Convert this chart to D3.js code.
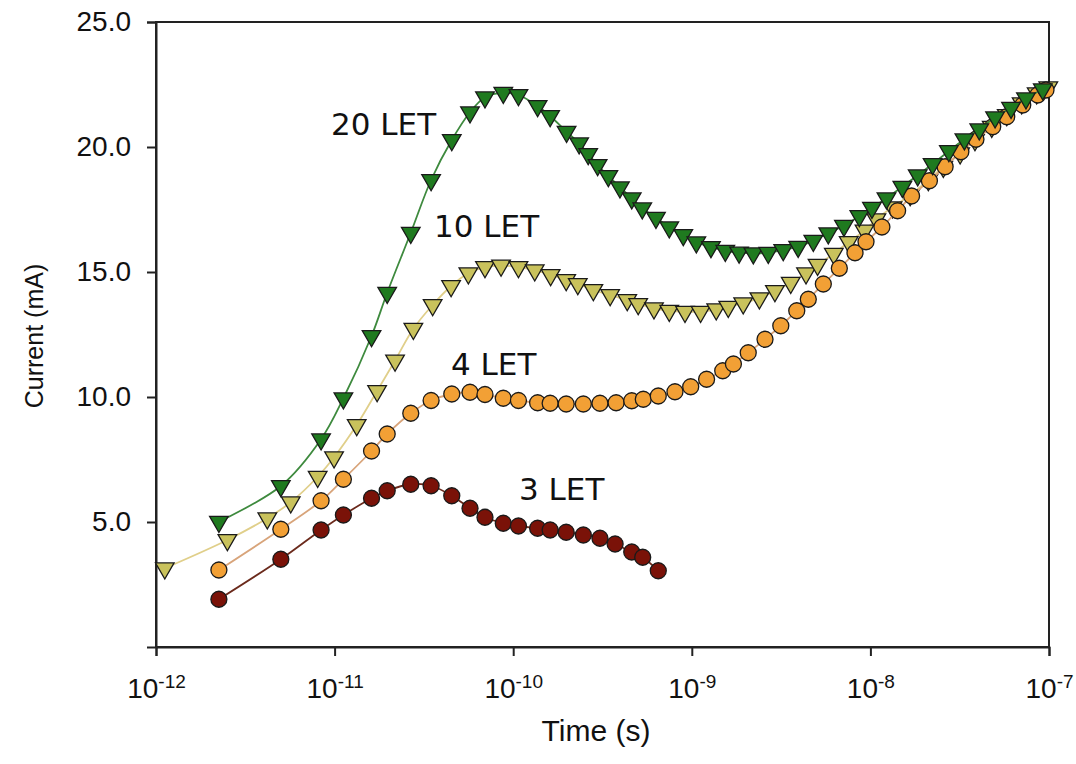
<!DOCTYPE html>
<html>
<head>
<meta charset="utf-8">
<script src="https://cdn.jsdelivr.net/npm/d3@7"></script>
<style>
  body { margin: 0; background: #fff; }
  svg { display: block; }
</style>
</head>
<body>
<div id="chart"></div>
<script>
// values: time (s) and current (mA)
var let3T = [2.25e-12, 5.0e-12, 8.4e-12, 1.12e-11, 1.61e-11, 1.97e-11, 2.67e-11, 3.47e-11, 4.53e-11, 5.73e-11, 6.95e-11,
  8.8e-11, 1.07e-10, 1.37e-10, 1.61e-10, 1.98e-10, 2.47e-10, 3.06e-10, 3.72e-10, 4.61e-10, 5.31e-10, 6.49e-10];
var let3I = [1.91, 3.51, 4.68, 5.28, 5.95, 6.25, 6.51, 6.45, 6.05, 5.55, 5.19,
  4.95, 4.84, 4.75, 4.68, 4.59, 4.48, 4.35, 4.12, 3.80, 3.59, 3.05];

var let4T = [2.25e-12, 5.0e-12, 8.4e-12, 1.12e-11, 1.61e-11, 1.97e-11, 2.67e-11, 3.47e-11, 4.53e-11, 5.73e-11, 6.95e-11,
  8.8e-11, 1.07e-10, 1.37e-10, 1.61e-10, 1.98e-10, 2.47e-10, 3.06e-10, 3.77e-10, 4.61e-10, 5.35e-10, 6.49e-10,
  8.05e-10, 9.86e-10, 1.21e-9, 1.49e-9, 1.71e-9, 2.07e-9, 2.57e-9, 3.15e-9, 3.87e-9, 4.49e-9, 5.45e-9,
  6.70e-9, 8.20e-9, 9.45e-9, 1.16e-8, 1.42e-8, 1.70e-8, 2.14e-8, 2.62e-8, 3.21e-8, 3.90e-8, 4.84e-8,
  5.80e-8, 7.13e-8, 8.65e-8, 9.62e-8];
var let4I = [3.08, 4.71, 5.85, 6.71, 7.84, 8.52, 9.35, 9.86, 10.12, 10.19, 10.10,
  9.95, 9.86, 9.77, 9.75, 9.72, 9.72, 9.75, 9.77, 9.85, 9.91, 10.04,
  10.21, 10.41, 10.71, 11.05, 11.32, 11.77, 12.31, 12.85, 13.45, 13.91, 14.52,
  15.15, 15.77, 16.21, 16.80, 17.45, 18.04, 18.65, 19.21, 19.81, 20.31, 20.81,
  21.21, 21.68, 22.08, 22.28];

var let10T = [1.12e-12, 2.51e-12, 4.20e-12, 5.68e-12, 8.04e-12, 9.93e-12, 1.33e-11, 1.73e-11, 2.18e-11, 2.76e-11, 3.54e-11,
  4.49e-11, 5.61e-11, 6.95e-11, 8.55e-11, 1.07e-10, 1.32e-10, 1.62e-10, 1.98e-10, 2.30e-10, 2.81e-10, 3.49e-10,
  4.35e-10, 5.01e-10, 6.14e-10, 7.48e-10, 9.16e-10, 1.12e-9, 1.37e-9, 1.60e-9, 1.94e-9, 2.39e-9, 2.92e-9,
  3.58e-9, 4.36e-9, 5.06e-9, 6.24e-9, 7.56e-9, 9.27e-9, 1.08e-8, 1.33e-8, 1.67e-8, 2.11e-8, 2.56e-8,
  3.18e-8, 3.85e-8, 4.78e-8, 5.80e-8, 7.03e-8, 8.53e-8, 9.91e-8];
var let10I = [3.15, 4.28, 5.15, 5.79, 6.81, 7.59, 8.88, 10.24, 11.46, 12.73, 13.68,
  14.44, 14.95, 15.20, 15.26, 15.20, 15.07, 14.88, 14.68, 14.52, 14.28, 14.08,
  13.88, 13.72, 13.55, 13.45, 13.41, 13.41, 13.51, 13.61, 13.75, 13.95, 14.24,
  14.57, 14.95, 15.29, 15.73, 16.20, 16.66, 17.11, 17.59, 18.08, 18.68, 19.21,
  19.75, 20.28, 20.81, 21.28, 21.75, 22.15, 22.39];

var let20T = [2.25e-12, 5.0e-12, 8.4e-12, 1.12e-11, 1.61e-11, 1.97e-11, 2.67e-11, 3.47e-11, 4.53e-11, 5.73e-11, 6.95e-11,
  8.8e-11, 1.07e-10, 1.37e-10, 1.61e-10, 1.99e-10, 2.34e-10, 2.63e-10, 2.97e-10, 3.41e-10, 3.96e-10, 4.61e-10,
  5.28e-10, 6.30e-10, 7.48e-10, 8.96e-10, 1.06e-9, 1.28e-9, 1.54e-9, 1.84e-9, 2.21e-9, 2.68e-9, 3.25e-9,
  3.94e-9, 4.79e-9, 5.81e-9, 7.11e-9, 8.67e-9, 1.02e-8, 1.23e-8, 1.51e-8, 1.84e-8, 2.23e-8, 2.75e-8,
  3.36e-8, 4.07e-8, 4.99e-8, 6.13e-8, 7.43e-8, 9.23e-8];
var let20I = [5.01, 6.44, 8.31, 9.95, 12.44, 14.17, 16.57, 18.68, 20.28, 21.39, 21.99,
  22.17, 22.08, 21.64, 21.24, 20.61, 20.15, 19.72, 19.28, 18.84, 18.39, 17.95,
  17.55, 17.17, 16.79, 16.48, 16.19, 16.00, 15.85, 15.78, 15.75, 15.77, 15.88,
  16.01, 16.25, 16.55, 16.85, 17.24, 17.57, 17.95, 18.41, 18.87, 19.32, 19.84,
  20.31, 20.71, 21.19, 21.57, 21.95, 22.31];

var yTicks = [5, 10, 15, 20, 25];
var xTicks = [1e-12, 1e-11, 1e-10, 1e-9, 1e-8, 1e-7];

// draw order: last one ends on top
var series = [
  {name: '3 LET',  t: let3T,  i: let3I,  shape: 'circle',   fill: '#7a1208', line: '#6b2a1c', lx: 519, ly: 500},
  {name: '10 LET', t: let10T, i: let10I, shape: 'triangle', fill: '#c9c25c', line: '#e0cf8a', lx: 434, ly: 237},
  {name: '4 LET',  t: let4T,  i: let4I,  shape: 'circle',   fill: '#f2a035', line: '#d8a47a', lx: 451, ly: 375},
  {name: '20 LET', t: let20T, i: let20I, shape: 'triangle', fill: '#1f7a1f', line: '#3e8a3e', lx: 331, ly: 135}
];

var W = 1076, H = 764;
var plotL = 156, plotR = 1049, plotT = 22, plotB = 647;

var svg = d3.select('#chart').append('svg')
  .attr('width', W)
  .attr('height', H)
  .style('background', '#fff');

var x = d3.scaleLog().domain([1e-12, 1e-7]).range([plotL, plotR]);
var y = d3.scaleLinear().domain([0, 25]).range([plotB, plotT]);

// frame
svg.append('rect')
  .attr('x', plotL).attr('y', plotT)
  .attr('width', plotR - plotL).attr('height', plotB - plotT)
  .attr('fill', 'none').attr('stroke', '#222').attr('stroke-width', 2);

var yAxis = svg.append('g')
  .attr('transform', 'translate(' + plotL + ',0)')
  .call(d3.axisLeft(y).tickValues(yTicks).tickFormat(d3.format('.1f')).tickSize(9).tickPadding(16));

var xAxis = svg.append('g')
  .attr('transform', 'translate(0,' + plotB + ')')
  .call(d3.axisBottom(x).tickValues(xTicks).tickSize(9).tickPadding(14));

[yAxis, xAxis].forEach(function(g) {
  g.select('.domain').attr('stroke', '#222').attr('stroke-width', 2);
  g.selectAll('.tick line').attr('stroke', '#222').attr('stroke-width', 2);
  g.selectAll('.tick text')
    .attr('fill', '#111')
    .style('font-family', '"Liberation Sans", Arial, sans-serif')
    .style('font-size', '28px');
});

// powers of ten with a raised exponent
xAxis.selectAll('.tick text').each(function(d) {
  var txt = d3.select(this).text(null).attr('dy', '1.0em');
  txt.append('tspan').text('10');
  txt.append('tspan')
    .attr('dy', '-0.55em')
    .style('font-size', '19px')
    .text(Math.round(Math.log10(d)));
});

// axis titles
svg.append('text')
  .attr('x', 596).attr('y', 741)
  .attr('text-anchor', 'middle')
  .style('font-family', '"Liberation Sans", Arial, sans-serif')
  .style('font-size', '30px')
  .attr('fill', '#111')
  .text('Time (s)');

svg.append('text')
  .attr('transform', 'translate(43,336) rotate(-90)')
  .attr('text-anchor', 'middle')
  .style('font-family', '"Liberation Sans", Arial, sans-serif')
  .style('font-size', '25px')
  .attr('fill', '#111')
  .text('Current (mA)');

var line = d3.line()
  .x(function(d) { return x(d[0]); })
  .y(function(d) { return y(d[1]); })
  .curve(d3.curveCatmullRom.alpha(0.5));

var circle = d3.symbol().type(d3.symbolCircle).size(Math.PI * 8 * 8);
var tri = d3.symbol().type(d3.symbolTriangle).size(150);

series.forEach(function(s) {
  var pts = s.t.map(function(t, k) { return [t, s.i[k]]; });
  var g = svg.append('g');

  g.append('path')
    .datum(pts)
    .attr('d', line)
    .attr('fill', 'none')
    .attr('stroke', s.line)
    .attr('stroke-width', 1.8);

  g.selectAll('path.mark')
    .data(pts)
    .enter().append('path')
    .attr('class', 'mark')
    .attr('d', s.shape === 'circle' ? circle : tri)
    .attr('transform', function(d) {
      return 'translate(' + x(d[0]) + ',' + y(d[1]) + ')' + (s.shape === 'circle' ? '' : ' rotate(180)');
    })
    .attr('fill', s.fill)
    .attr('stroke', '#1a1a1a')
    .attr('stroke-width', 1.3);
});

// curve labels
svg.append('g').selectAll('text')
  .data(series)
  .enter().append('text')
  .attr('x', function(d) { return d.lx; })
  .attr('y', function(d) { return d.ly; })
  .style('font-family', '"DejaVu Sans", Verdana, sans-serif')
  .style('font-size', '31px')
  .attr('fill', '#111')
  .text(function(d) { return d.name; });
</script>
</body>
</html>
